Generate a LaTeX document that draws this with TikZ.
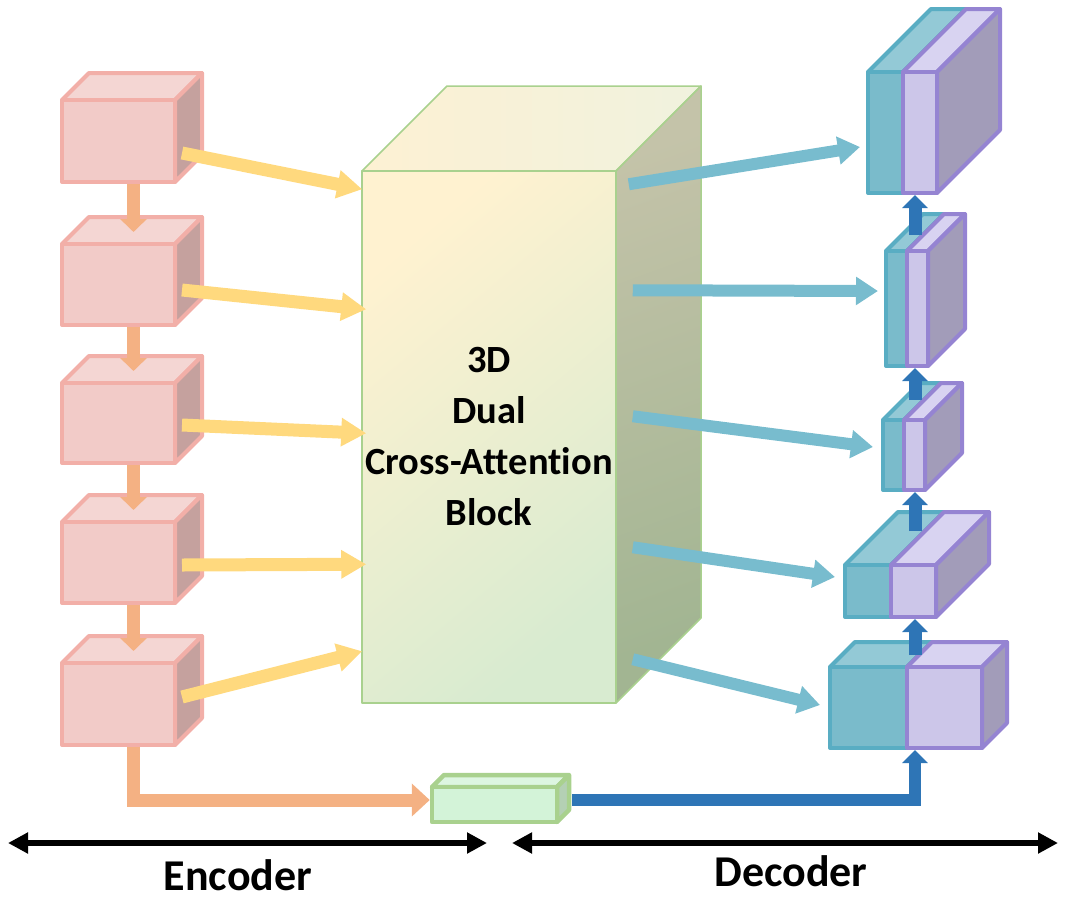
\documentclass[tikz,border=0pt]{standalone}
\usepackage{fontspec}
\setmainfont{Carlito}[Ligatures=NoCommon]
\usetikzlibrary{arrows.meta}
\definecolor{encF}{HTML}{F2CBC8}
\definecolor{encT}{HTML}{F4D6D3}
\definecolor{encSd}{HTML}{C5A19E}
\definecolor{encS}{HTML}{F2AFA8}
\definecolor{tealF}{HTML}{7ABBCB}
\definecolor{tealT}{HTML}{93C9D6}
\definecolor{tealSd}{HTML}{6FA3B0}
\definecolor{tealS}{HTML}{59ADC3}
\definecolor{purF}{HTML}{CCC6E9}
\definecolor{purT}{HTML}{D8D3F1}
\definecolor{purSd}{HTML}{A29CB9}
\definecolor{purS}{HTML}{9584D2}
\definecolor{grnS}{HTML}{A9D18E}
\definecolor{bnF}{HTML}{D3F3D8}
\definecolor{bnT}{HTML}{DDF6E1}
\definecolor{bnSd}{HTML}{B4D0B4}
\definecolor{dblue}{HTML}{2E75B6}
\definecolor{tarrow}{HTML}{78BCCE}
\definecolor{yarrow}{HTML}{FFD97E}
\definecolor{oarrow}{HTML}{F4B183}
\definecolor{blkTa}{HTML}{FDF1D3}
\definecolor{blkTb}{HTML}{F0F2DE}
\definecolor{blkSa}{HTML}{C4C3A9}
\definecolor{blkSb}{HTML}{A2B592}
\definecolor{blkFa}{HTML}{FFF2D0}
\definecolor{blkFb}{HTML}{D8EBD0}
\newcommand\boxthree[8]{%
  \path[#1top] (#3,#4) -- ({#3+#7},{#4-#7}) -- ({#5+#7},{#4-#7}) -- (#5,#4) -- cycle;
  \path[#1side] (#5,#4) -- ({#5+#7},{#4-#7}) -- ({#5+#7},{#6-#7}) -- (#5,#6) -- cycle;
  \node[#1front, inner sep=0pt, minimum width={(#5-#3)*1pt}, minimum height={(#6-#4)*1pt}] (#2) at ({(#3+#5)/2},{(#4+#6)/2}) {#8};
}
\tikzset{
  faces/.style={line join=round},
  enctop/.style={faces, fill=encT, draw=encS, line width=4pt},
  encside/.style={faces, fill=encSd, draw=encS, line width=4pt},
  encfront/.style={faces, fill=encF, draw=encS, line width=4pt},
  tealtop/.style={faces, fill=tealT, draw=tealS, line width=4pt},
  tealside/.style={faces, fill=tealSd, draw=tealS, line width=4pt},
  tealfront/.style={faces, fill=tealF, draw=tealS, line width=4pt},
  purtop/.style={faces, fill=purT, draw=purS, line width=4pt},
  purside/.style={faces, fill=purSd, draw=purS, line width=4pt},
  purfront/.style={faces, fill=purF, draw=purS, line width=4pt},
  bntop/.style={faces, fill=bnT, draw=grnS, line width=4.5pt},
  bnside/.style={faces, fill=bnSd, draw=grnS, line width=4.5pt},
  bnfront/.style={faces, fill=bnF, draw=grnS, line width=4.5pt},
  blktop/.style={faces, draw=grnS, line width=1.5pt, left color=blkTa, right color=blkTb},
  blkside/.style={faces, draw=grnS, line width=1.5pt, top color=blkSa, bottom color=blkSb, shading angle=20},
  blkfront/.style={faces, draw=grnS, line width=1.5pt, top color=blkFa, bottom color=blkFb, shading angle=40, align=center, font=\bfseries\fontsize{38.5pt}{51pt}\selectfont},
  yarr/.style={draw=yarrow, line width=13pt, -{Triangle[width=27pt,length=25pt]}},
  tarr/.style={draw=tarrow, line width=12pt, -{Triangle[width=27pt,length=22pt]}},
  oarr/.style={draw=oarrow, line width=13pt, -{Triangle[width=26pt,length=13pt]}},
  oarrb/.style={draw=oarrow, line width=13pt, -{Triangle[width=32pt,length=18pt]}},
  barr/.style={draw=dblue, line width=13pt, -{Triangle[width=25pt,length=13pt]}},
  barrb/.style={draw=dblue, line width=12pt, -{Triangle[width=25pt,length=13pt]}},
  karr/.style={draw=black, line width=6pt, {Triangle[width=20pt,length=20pt]}-{Triangle[width=20pt,length=20pt]}},
  lbl/.style={font=\bfseries\fontsize{44pt}{48pt}\selectfont, anchor=base, inner sep=0pt}
}
\begin{document}
\begin{tikzpicture}[x=1pt,y=-1pt]
\useasboundingbox (0,0) rectangle (1068,900);
% encoder cubes
\boxthree{enc}{e1}{62}{100}{175}{182}{27}{}
\boxthree{enc}{e2}{62}{244}{175}{325}{27}{}
\boxthree{enc}{e3}{62}{383}{175}{463}{27}{}
\boxthree{enc}{e4}{62}{522}{175}{603}{27}{}
\boxthree{enc}{e5}{62}{663}{175}{745}{27}{}
% central block
\boxthree{blk}{blk}{362}{171}{616}{703}{85}{3D\\Dual\\Cross-Attention\\Block}
% bottleneck
\boxthree{bn}{bn}{432}{787}{557}{822}{12}{}
% decoder blocks
\boxthree{teal}{d1t}{868}{72}{903}{193}{63}{}
\boxthree{pur}{d1p}{903}{72}{937}{193}{63}{}
\boxthree{teal}{d2t}{886}{251}{907}{366}{37}{}
\boxthree{pur}{d2p}{907}{251}{928}{366}{37}{}
\boxthree{teal}{d3t}{883}{420}{904}{490}{37}{}
\boxthree{pur}{d3p}{904}{420}{925}{490}{37}{}
\boxthree{teal}{d4t}{845}{565}{891}{617}{53}{}
\boxthree{pur}{d4p}{891}{565}{936}{617}{53}{}
\boxthree{teal}{d5t}{830}{667}{907}{748}{25}{}
\boxthree{pur}{d5p}{907}{667}{982}{748}{25}{}
% encoder down arrows
\draw[oarr] ([shift={(15,0)}]e1.south) -- ([shift={(15,-10)}]e2.north);
\draw[oarr] ([shift={(15,0)}]e2.south) -- ([shift={(15,-10)}]e3.north);
\draw[oarr] ([shift={(15,0)}]e3.south) -- ([shift={(15,-10)}]e4.north);
\draw[oarr] ([shift={(15,0)}]e4.south) -- ([shift={(15,-10)}]e5.north);
\draw[oarrb] ([shift={(15,0)}]e5.south) |- ([shift={(0,-4.5)}]bn.west);
% yellow arrows
\draw[yarr] ([shift={(5,12)}]e1.east) -- ([shift={(1,19)}]blk.north west);
\draw[yarr] ([shift={(5,5.5)}]e2.east) -- ([shift={(5,139)}]blk.north west);
\draw[yarr] ([shift={(5,2)}]e3.east) -- ([shift={(5,263)}]blk.north west);
\draw[yarr] ([shift={(5,2.5)}]e4.east) -- ([shift={(5,394)}]blk.north west);
\draw[yarr] ([shift={(5,-7)}]e5.east) -- ([shift={(1,481)}]blk.north west);
% teal arrows
\draw[tarr] ([shift={(12,14)}]blk.north east) -- ([shift={(-6,14.5)}]d1t.west);
\draw[tarr] ([shift={(16,120)}]blk.north east) -- ([shift={(-6,-17.5)}]d2t.west);
\draw[tarr] ([shift={(16,246)}]blk.north east) -- ([shift={(-8,-8)}]d3t.west);
\draw[tarr] ([shift={(16,377)}]blk.north east) -- ([shift={(-8,-14)}]d4t.west);
\draw[tarr] ([shift={(16,489)}]blk.north east) -- ([shift={(-8,-2.5)}]d5t.west);
% decoder up arrows
\draw[barrb] ([shift={(13,-4.5)}]bn.east) -| ([shift={(6,0)}]d5t.south east);
\draw[barr] ([shift={(6,-10)}]d5t.north east) -- ([shift={(22,0)}]d4t.south east);
\draw[barr] ([shift={(22,-32)}]d4t.north east) -- ([shift={(9,0)}]d3t.south east);
\draw[barr] ([shift={(9,-18)}]d3t.north east) -- ([shift={(6,0)}]d2t.south east);
\draw[barr] ([shift={(6,-14)}]d2t.north east) -- ([shift={(10,0)}]d1t.south east);
% encoder / decoder spans
\coordinate (encL) at (8,843);
\coordinate (encR) at (487,843);
\coordinate (decL) at (512,843);
\coordinate (decR) at (1058,843);
\draw[karr] (encL) -- (encR);
\draw[karr] (decL) -- (decR);
\node[lbl] (enc) at (238,890) {Encoder};
\node[lbl] (dec) at (791,886) {Decoder};
\end{tikzpicture}
\end{document}
